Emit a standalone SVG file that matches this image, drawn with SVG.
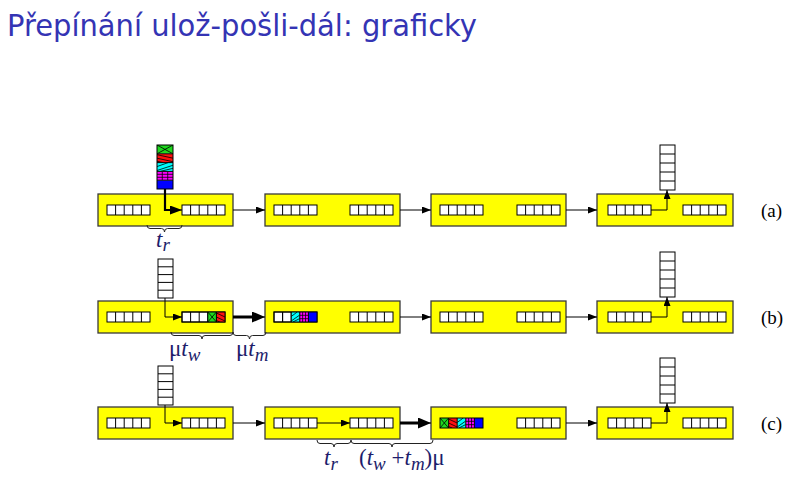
<svg xmlns="http://www.w3.org/2000/svg" xmlns:xlink="http://www.w3.org/1999/xlink" width="808" height="492" viewBox="0 0 808 492">
<style>
.title{font-family:"DejaVu Sans","Liberation Sans",sans-serif;font-size:30px;fill:#3434b4}
.node{fill:#ffff00;stroke:#3a3a3a;stroke-width:1.3}
.cell{fill:#fff;stroke:#000;stroke-width:1}
.cl{fill:none;stroke:#000;stroke-width:1}
.ln{fill:none;stroke:#000;stroke-width:1}
.bold{fill:none;stroke:#000;stroke-width:3}
.med{fill:none;stroke:#000;stroke-width:2.2}
.brace{fill:none;stroke:#222;stroke-width:1}
.math{font-family:"Liberation Serif",serif;font-size:23px;fill:#1d1d6b}
.it{font-style:italic}
.sub{font-style:italic;font-size:19px}
.lab{font-family:"Liberation Serif",serif;font-size:19px;fill:#000}
.hl{stroke:#000;stroke-width:0.8;fill:none}
</style>
<defs>
<marker id="aThin" markerUnits="userSpaceOnUse" markerWidth="9" markerHeight="7" refX="9" refY="3.5" orient="auto"><path d="M0,0 L9,3.5 L0,7 z" fill="#000"/></marker>
<marker id="aMed" markerUnits="userSpaceOnUse" markerWidth="12" markerHeight="9" refX="12" refY="4.5" orient="auto"><path d="M0,0 L12,4.5 L0,9 z" fill="#000"/></marker>
<marker id="aBold" markerUnits="userSpaceOnUse" markerWidth="13" markerHeight="11" refX="13" refY="5.5" orient="auto"><path d="M0,0 L13,5.5 L0,11 z" fill="#000"/></marker>
<symbol id="cG" viewBox="0 0 10 10" preserveAspectRatio="none"><rect width="10" height="10" fill="#1ed81e"/><path d="M0,0L10,10M10,0L0,10" class="hl" vector-effect="non-scaling-stroke"/></symbol>
<symbol id="cR" viewBox="0 0 10 10" preserveAspectRatio="none"><rect width="10" height="10" fill="#ff1010"/><path d="M0,1L10,5M0,5L10,9M0,8.5L4,10" class="hl" vector-effect="non-scaling-stroke"/></symbol>
<symbol id="cC" viewBox="0 0 10 10" preserveAspectRatio="none"><rect width="10" height="10" fill="#00ffff"/><path d="M0,9L10,3M2,10L10,6.5M0,4.5L7,0" class="hl" vector-effect="non-scaling-stroke"/></symbol>
<symbol id="cM" viewBox="0 0 10 10" preserveAspectRatio="none"><rect width="10" height="10" fill="#ff00ff"/><path d="M3.3,0V10M6.7,0V10M0,3.3H10M0,6.7H10" class="hl" vector-effect="non-scaling-stroke"/></symbol>
<symbol id="cB" viewBox="0 0 10 10" preserveAspectRatio="none"><rect width="10" height="10" fill="#0000ff"/></symbol>
<g id="buf"><rect width="43" height="10" class="cell"/><path d="M8.6,0V10M17.2,0V10M25.8,0V10M34.4,0V10" class="cl"/></g>
<g id="stk45"><rect width="15" height="45" class="cell"/><path d="M0,9H15M0,18H15M0,27H15M0,36H15" class="cl"/></g>
<g id="stk39"><rect width="15" height="39" class="cell"/><path d="M0,7.8H15M0,15.6H15M0,23.4H15M0,31.2H15" class="cl"/></g>
</defs>

<text class="title" x="7" y="36" textLength="470" lengthAdjust="spacingAndGlyphs">Přepínání ulož-pošli-dál: graficky</text>

<!-- Row (a) -->
<g id="a1">
<rect class="node" x="98" y="194" width="135" height="32"/>
<use href="#buf" x="107" y="205"/>
<use href="#buf" x="182" y="205"/>
<use href="#cG" x="157" y="145" width="16" height="8.8"/>
<use href="#cR" x="157" y="153.8" width="16" height="8.8"/>
<use href="#cC" x="157" y="162.6" width="16" height="8.8"/>
<use href="#cM" x="157" y="171.4" width="16" height="8.8"/>
<use href="#cB" x="157" y="180.2" width="16" height="8.8"/>
<rect x="157" y="145" width="16" height="44" class="cl"/>
<path d="M157,153.8H173M157,162.6H173M157,171.4H173M157,180.2H173" class="cl"/>
</g>
<g id="a2">
<rect class="node" x="265" y="194" width="135" height="32"/>
<use href="#buf" x="274" y="205"/>
<use href="#buf" x="350" y="205"/>
</g>
<g id="a3">
<rect class="node" x="431" y="194" width="135" height="32"/>
<use href="#buf" x="440" y="205"/>
<use href="#buf" x="517" y="205"/>
</g>
<g id="a4">
<rect class="node" x="597" y="194" width="136" height="32"/>
<use href="#buf" x="608" y="205"/>
<use href="#buf" x="683" y="205"/>
<use href="#stk45" x="660" y="145"/>
</g>
<text class="lab" x="761" y="217">(a)</text>

<!-- Row (b) -->
<g id="b1">
<rect class="node" x="98" y="301" width="135" height="32"/>
<use href="#buf" x="107" y="312"/>
<use href="#buf" x="182" y="312"/>
<use href="#cG" x="207.8" y="312" width="8.6" height="10"/>
<use href="#cR" x="216.4" y="312" width="8.6" height="10"/>
<rect x="182" y="312" width="43" height="10" class="cl"/>
<path d="M207.8,312V322M216.4,312V322" class="cl"/>
<use href="#stk39" x="158" y="259"/>
</g>
<g id="b2">
<rect class="node" x="265" y="301" width="135" height="32"/>
<use href="#buf" x="274" y="312"/>
<use href="#cC" x="291.2" y="312" width="8.6" height="10"/>
<use href="#cM" x="299.8" y="312" width="8.6" height="10"/>
<use href="#cB" x="308.4" y="312" width="8.6" height="10"/>
<rect x="274" y="312" width="43" height="10" class="cl"/>
<path d="M282.6,312V322M291.2,312V322M299.8,312V322M308.4,312V322" class="cl"/>
<use href="#buf" x="350" y="312"/>
</g>
<g id="b3">
<rect class="node" x="431" y="301" width="135" height="32"/>
<use href="#buf" x="440" y="312"/>
<use href="#buf" x="517" y="312"/>
</g>
<g id="b4">
<rect class="node" x="597" y="301" width="136" height="32"/>
<use href="#buf" x="608" y="312"/>
<use href="#buf" x="683" y="312"/>
<use href="#stk45" x="660" y="252"/>
</g>
<text class="lab" x="761" y="324">(b)</text>

<!-- Row (c) -->
<g id="c1">
<rect class="node" x="98" y="407" width="135" height="32"/>
<use href="#buf" x="107" y="418"/>
<use href="#buf" x="182" y="418"/>
<use href="#stk39" x="158" y="366"/>
</g>
<g id="c2">
<rect class="node" x="265" y="407" width="135" height="32"/>
<use href="#buf" x="274" y="418"/>
<use href="#buf" x="350" y="418"/>
</g>
<g id="c3">
<rect class="node" x="431" y="407" width="135" height="32"/>
<use href="#cG" x="440" y="418" width="8.6" height="10"/>
<use href="#cR" x="448.6" y="418" width="8.6" height="10"/>
<use href="#cC" x="457.2" y="418" width="8.6" height="10"/>
<use href="#cM" x="465.8" y="418" width="8.6" height="10"/>
<use href="#cB" x="474.4" y="418" width="8.6" height="10"/>
<rect x="440" y="418" width="43" height="10" class="cl"/>
<path d="M448.6,418V428M457.2,418V428M465.8,418V428M474.4,418V428" class="cl"/>
<use href="#buf" x="517" y="418"/>
</g>
<g id="c4">
<rect class="node" x="597" y="407" width="136" height="32"/>
<use href="#buf" x="608" y="418"/>
<use href="#buf" x="683" y="418"/>
<use href="#stk45" x="660" y="358"/>
</g>
<text class="lab" x="761" y="430">(c)</text>

<!-- Connectors -->
<g id="connectors">
<path class="med" d="M165,189V210H170" />
<path class="ln" d="M168,210H182" marker-end="url(#aMed)"/>
<path class="ln" d="M233,210H265" marker-end="url(#aThin)"/>
<path class="ln" d="M400,210H431" marker-end="url(#aThin)"/>
<path class="ln" d="M566,210H597" marker-end="url(#aThin)"/>
<path class="ln" d="M651,210H667V190" marker-end="url(#aThin)"/>

<path class="ln" d="M165,298V317H182" marker-end="url(#aThin)"/>
<path class="bold" d="M233,317H256"/>
<path class="ln" d="M252,317H265" marker-end="url(#aBold)"/>
<path class="ln" d="M400,317H431" marker-end="url(#aThin)"/>
<path class="ln" d="M566,317H597" marker-end="url(#aThin)"/>
<path class="ln" d="M651,317H667V297" marker-end="url(#aThin)"/>

<path class="ln" d="M165,405V423H182" marker-end="url(#aThin)"/>
<path class="ln" d="M233,423H265" marker-end="url(#aThin)"/>
<path class="ln" d="M317,423H350" marker-end="url(#aThin)"/>
<path class="bold" d="M400,423H422"/>
<path class="ln" d="M418,423H431" marker-end="url(#aBold)"/>
<path class="ln" d="M566,423H597" marker-end="url(#aThin)"/>
<path class="ln" d="M651,423H667V403" marker-end="url(#aThin)"/>
</g>

<!-- Braces and labels -->
<g id="braces">
<path class="brace" d="M147,225 Q147,228.5 150,228.5 L161.5,228.5 Q164.5,228.5 164.5,232 Q164.5,228.5 167.5,228.5 L179,228.5 Q182,228.5 182,225"/>
<path class="brace" d="M171,332 Q171,335.5 174,335.5 L199,335.5 Q202,335.5 202,339 Q202,335.5 205,335.5 L230,335.5 Q233,335.5 233,332"/>
<path class="brace" d="M233,332 Q233,335.5 236,335.5 L246.5,335.5 Q249.5,335.5 249.5,339 Q249.5,335.5 252.5,335.5 L263,335.5 Q266,335.5 266,332"/>
<path class="brace" d="M317,440 Q317,443.5 320,443.5 L331,443.5 Q334,443.5 334,447 Q334,443.5 337,443.5 L348,443.5 Q351,443.5 351,440"/>
<path class="brace" d="M351,440 Q351,443.5 354,443.5 L389,443.5 Q392,443.5 392,447 Q392,443.5 395,443.5 L430,443.5 Q433,443.5 433,440"/>
</g>
<text class="math" x="156" y="247"><tspan class="it">t</tspan><tspan class="sub" dy="4">r</tspan></text>
<text class="math" x="169" y="356">μ<tspan class="it">t</tspan><tspan class="sub" dy="5">w</tspan></text>
<text class="math" x="236" y="356">μ<tspan class="it">t</tspan><tspan class="sub" dy="5">m</tspan></text>
<text class="math" x="324" y="465"><tspan class="it">t</tspan><tspan class="sub" dy="5">r</tspan></text>
<text class="math" x="359" y="465">(<tspan class="it">t</tspan><tspan class="sub" dy="5">w</tspan><tspan dy="-5"> +</tspan><tspan class="it">t</tspan><tspan class="sub" dy="5">m</tspan><tspan dy="-5">)μ</tspan></text>
</svg>
